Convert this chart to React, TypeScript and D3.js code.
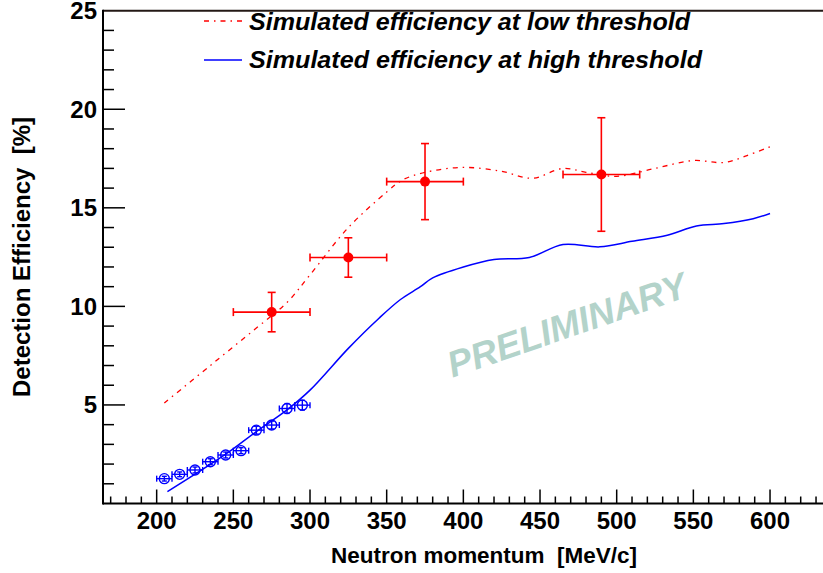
import React from "react";
import * as d3 from "d3";

const W = 823;
const H = 573;

// Red data points (measured, low threshold)
const redX = [275, 325, 375, 490];
const redY = [9.71, 12.48, 16.33, 16.69];
const redXErr = [25, 25, 25, 25];
const redYErr = [1.0, 1.0, 1.93, 2.88];

// Blue data points (measured, high threshold)
const blueX = [205, 215, 225, 235, 245, 255, 265, 275, 285, 295];
const blueY = [1.26, 1.48, 1.7, 2.12, 2.46, 2.68, 3.72, 3.98, 4.82, 4.99];
const blueXErr = [5, 5, 5, 5, 5, 5, 5, 5, 5, 5];
const blueYErr = [0.12, 0.12, 0.15, 0.15, 0.15, 0.15, 0.2, 0.2, 0.25, 0.25];

// Simulated efficiency at low threshold (red dash-dot)
const lowX = [205, 235, 265, 285, 300, 325, 350, 360, 375, 400, 425, 445, 465, 480, 500, 525, 550, 570, 585, 600];
const lowY = [5.1, 7.0, 8.9, 10.2, 11.6, 14.0, 15.8, 16.4, 16.8, 17.05, 16.85, 16.5, 17.0, 16.8, 16.6, 17.0, 17.4, 17.3, 17.65, 18.1];

// Simulated efficiency at high threshold (blue solid)
const highX = [207, 245, 265, 285, 300, 325, 345, 359, 372, 380, 400, 420, 443, 465, 489, 510, 533, 552, 570, 589, 600];
const highY = [0.6, 2.5, 3.65, 4.75, 5.75, 7.87, 9.4, 10.35, 11.0, 11.45, 12.0, 12.38, 12.48, 13.14, 13.02, 13.3, 13.61, 14.08, 14.2, 14.45, 14.71];

const xTicks = [200, 250, 300, 350, 400, 450, 500, 550, 600];
const yTicks = [5, 10, 15, 20, 25];

const legendLabels = [
  "Simulated efficiency at low threshold",
  "Simulated efficiency at high threshold",
];

const FONT = "'Liberation Sans', Arial, Helvetica, sans-serif";

export default function App() {
  const x = d3.scaleLinear().domain([165, 635]).range([103, 823.7]);
  const y = d3.scaleLinear().domain([0, 25]).range([503.5, 10.7]);

  const xMinor = d3.range(170, 636, 10);
  const yMinor = d3.range(1, 25, 1);

  const line = d3
    .line<[number, number]>()
    .x((d) => x(d[0]))
    .y((d) => y(d[1]))
    .curve(d3.curveCatmullRom.alpha(0.5));

  const lowPts: [number, number][] = lowX.map((v, i) => [v, lowY[i]]);
  const highPts: [number, number][] = highX.map((v, i) => [v, highY[i]]);

  const red = "#ff0000";
  const blue = "#0000ff";

  return (
    <svg
      width={W}
      height={H}
      style={{ position: "absolute", left: 0, top: 0, background: "#fff" }}
    >
      <rect x={0} y={0} width={W} height={H} fill="#fff" />
      {/* frame */}
      <line x1={x(165)} x2={W} y1={y(25)} y2={y(25)} stroke="#231815" strokeWidth={2} />
      <line x1={x(165)} x2={W} y1={y(0)} y2={y(0)} stroke="#000" strokeWidth={2} />
      <line x1={x(165)} x2={x(165)} y1={y(0) + 1} y2={y(25) - 1} stroke="#000" strokeWidth={2} />

      {/* x ticks */}
      {xMinor.map((t) => {
        const major = t % 50 === 0;
        return (
          <line
            key={"xt" + t}
            x1={x(t)}
            x2={x(t)}
            y1={y(0)}
            y2={y(0) - (major ? 14 : 7)}
            stroke="#000"
            strokeWidth={1.5}
          />
        );
      })}
      {xTicks.map((t) => (
        <text
          key={"xl" + t}
          x={x(t)}
          y={529}
          textAnchor="middle"
          fontFamily={FONT}
          fontWeight="bold"
          fontSize={24}
          fill="#000"
        >
          {t}
        </text>
      ))}

      {/* y ticks */}
      {yMinor.map((t) => {
        const major = t % 5 === 0;
        return (
          <line
            key={"yt" + t}
            x1={x(165)}
            x2={x(165) + (major ? 22 : 11)}
            y1={y(t)}
            y2={y(t)}
            stroke="#000"
            strokeWidth={1.5}
          />
        );
      })}
      {yTicks.map((t) => (
        <text
          key={"yl" + t}
          x={97}
          y={y(t) + 8.5}
          textAnchor="end"
          fontFamily={FONT}
          fontWeight="bold"
          fontSize={24}
          fill="#000"
        >
          {t}
        </text>
      ))}

      {/* axis titles */}
      <text
        x={331}
        y={563}
        textLength={306}
        lengthAdjust="spacingAndGlyphs"
        fontFamily={FONT}
        fontWeight="bold"
        fontSize={22.5}
        fill="#000"
        style={{ whiteSpace: "pre" }}
      >
        Neutron momentum  [MeV/c]
      </text>
      <text
        transform={`translate(30, 257) rotate(-90)`}
        textAnchor="middle"
        fontFamily={FONT}
        fontWeight="bold"
        fontSize={24}
        fill="#000"
        style={{ whiteSpace: "pre" }}
      >
        Detection Efficiency  [%]
      </text>

      {/* PRELIMINARY watermark */}
      <text
        transform={`translate(571, 337) rotate(-19)`}
        textAnchor="middle"
        fontFamily={FONT}
        fontWeight="bold"
        fontStyle="italic"
        fontSize={36.5}
        fill="#b3d3ca"
      >
        PRELIMINARY
      </text>

      {/* simulated curves */}
      <path
        d={line(lowPts) || ""}
        fill="none"
        stroke={red}
        strokeWidth={1.3}
        strokeDasharray="5 5 1.5 5"
      />
      <path d={line(highPts) || ""} fill="none" stroke={blue} strokeWidth={1.5} />

      {/* blue data points */}
      {blueX.map((bx, i) => {
        const cx = x(bx);
        const cy = y(blueY[i]);
        const x0 = x(bx - blueXErr[i]);
        const x1 = x(bx + blueXErr[i]);
        const y0 = y(blueY[i] - blueYErr[i]);
        const y1 = y(blueY[i] + blueYErr[i]);
        return (
          <g key={"b" + i} stroke={blue} strokeWidth={1.4} fill="none">
            <line x1={x0} x2={x1} y1={cy} y2={cy} />
            <line x1={x0} x2={x0} y1={cy - 3} y2={cy + 3} />
            <line x1={x1} x2={x1} y1={cy - 3} y2={cy + 3} />
            <line x1={cx} x2={cx} y1={y0} y2={y1} />
            <line x1={cx - 2.5} x2={cx + 2.5} y1={y0} y2={y0} />
            <line x1={cx - 2.5} x2={cx + 2.5} y1={y1} y2={y1} />
            <circle cx={cx} cy={cy} r={5} />
          </g>
        );
      })}

      {/* red data points */}
      {redX.map((rx, i) => {
        const cx = x(rx);
        const cy = y(redY[i]);
        const x0 = x(rx - redXErr[i]);
        const x1 = x(rx + redXErr[i]);
        const y0 = y(redY[i] - redYErr[i]);
        const y1 = y(redY[i] + redYErr[i]);
        return (
          <g key={"r" + i} stroke={red} strokeWidth={1.6} fill="none">
            <line x1={x0} x2={x1} y1={cy} y2={cy} />
            <line x1={x0} x2={x0} y1={cy - 4} y2={cy + 4} />
            <line x1={x1} x2={x1} y1={cy - 4} y2={cy + 4} />
            <line x1={cx} x2={cx} y1={y0} y2={y1} />
            <line x1={cx - 4} x2={cx + 4} y1={y0} y2={y0} />
            <line x1={cx - 4} x2={cx + 4} y1={y1} y2={y1} />
            <circle cx={cx} cy={cy} r={5} fill={red} stroke="none" />
          </g>
        );
      })}

      {/* legend */}
      <line x1={204} x2={242} y1={21} y2={21} stroke={red} strokeWidth={1.3} strokeDasharray="5 5 1.5 5" />
      <line x1={204} x2={242} y1={60} y2={60} stroke={blue} strokeWidth={1.5} />
      {legendLabels.map((l, i) => (
        <text
          key={"lg" + i}
          x={249}
          y={i === 0 ? 30 : 68}
          textLength={i === 0 ? 441 : 453}
          lengthAdjust="spacingAndGlyphs"
          fontFamily={FONT}
          fontWeight="bold"
          fontStyle="italic"
          fontSize={24}
          fill="#000"
        >
          {l}
        </text>
      ))}
    </svg>
  );
}
